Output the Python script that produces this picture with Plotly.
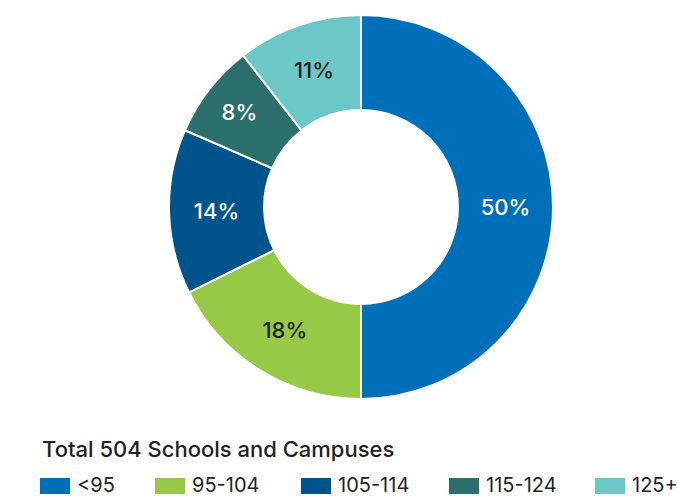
import plotly.graph_objects as go

categories = ["<95", "95-104", "105-114", "115-124", "125+"]
counts = [252, 89, 70, 40, 53]
colors = ["#006FB9", "#96C946", "#01538B", "#2B706C", "#6CC8C6"]
text_colors = ["#FFFFFF", "#231F20", "#FFFFFF", "#FFFFFF", "#231F20"]
title_text = "Total 504 Schools and Campuses"
legend_x = [40, 155, 301, 449, 595]

W, H = 677, 496
FONT = "Inter"

fig = go.Figure()
fig.add_trace(go.Pie(
    labels=categories,
    values=counts,
    sort=False,
    direction="clockwise",
    rotation=0,
    hole=0.505,
    marker=dict(colors=colors, line=dict(color="#FFFFFF", width=2)),
    texttemplate="%{percent:.0%}",
    textposition="inside",
    insidetextorientation="horizontal",
    textfont=dict(family=FONT, size=22, color=text_colors, weight=500),
    domain=dict(x=[(361 - 192) / W, (361 + 192) / W], y=[1 - 399 / H, 1 - 15 / H]),
    showlegend=False,
    hoverinfo="label+value+percent",
))

shapes = []
annotations = [dict(
    text=title_text, x=40 / W, y=1 - 449 / H, xref="paper", yref="paper",
    xanchor="left", yanchor="middle", showarrow=False,
    font=dict(family=FONT, size=22, color="#231F20", weight=500),
)]
for cat, col, x0 in zip(categories, colors, legend_x):
    shapes.append(dict(
        type="rect", xref="paper", yref="paper",
        x0=x0 / W, x1=(x0 + 30) / W, y0=1 - 494 / H, y1=1 - 478 / H,
        fillcolor=col, line=dict(width=0),
    ))
    annotations.append(dict(
        text=cat, x=(x0 + 35) / W, y=1 - 485 / H, xref="paper", yref="paper",
        xanchor="left", yanchor="middle", showarrow=False,
        font=dict(family=FONT, size=20, color="#231F20", weight=400),
    ))

fig.update_layout(
    width=W, height=H,
    margin=dict(l=0, r=0, t=0, b=0),
    paper_bgcolor="#FFFFFF",
    plot_bgcolor="#FFFFFF",
    shapes=shapes,
    annotations=annotations,
)

fig.write_html(
    "out.html",
    config={"displayModeBar": False},
    post_script="document.body.style.margin='0';document.body.style.overflow='hidden';",
)
